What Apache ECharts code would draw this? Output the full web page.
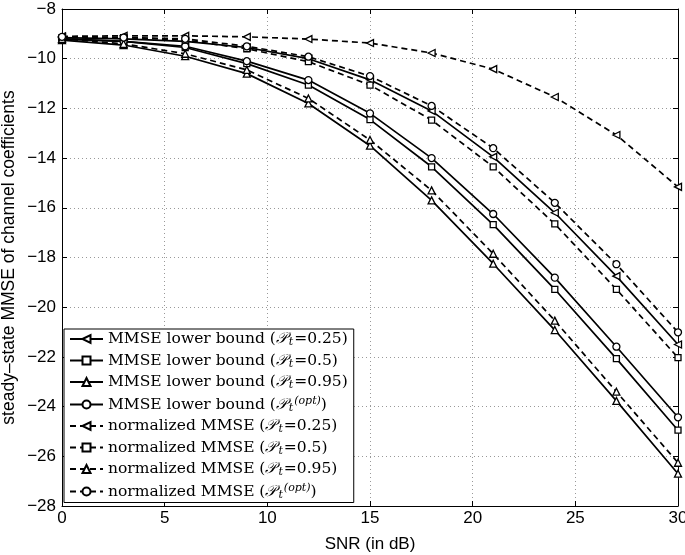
<!DOCTYPE html>
<html>
<head>
<meta charset="utf-8">
<script src="https://cdn.jsdelivr.net/npm/echarts@6/dist/echarts.min.js"></script>
<style>html,body{margin:0;padding:0;background:#fff}#c{width:685px;height:555px}</style>
</head>
<body>
<div id="c"></div>
<script>
const snr = [0, 3, 6, 9, 12, 15, 18, 21, 24, 27, 30];
const lb025 = [-9.15, -9.2, -9.3, -9.55, -10.0, -10.85, -12.1, -13.95, -16.2, -18.75, -21.5];
const lb05  = [-9.2, -9.3, -9.55, -10.2, -11.06, -12.45, -14.35, -16.68, -19.28, -22.07, -24.95];
const lb095 = [-9.25, -9.45, -9.9, -10.6, -11.8, -13.5, -15.7, -18.25, -20.92, -23.77, -26.7];
const lbopt = [-9.2, -9.3, -9.5, -10.1, -10.86, -12.2, -14.0, -16.25, -18.81, -21.59, -24.43];
const n025  = [-9.1, -9.08, -9.08, -9.12, -9.21, -9.37, -9.77, -10.42, -11.54, -13.07, -15.16];
const n05   = [-9.15, -9.15, -9.25, -9.6, -10.12, -11.06, -12.47, -14.35, -16.65, -19.28, -22.03];
const n095  = [-9.2, -9.4, -9.8, -10.45, -11.6, -13.27, -15.3, -17.85, -20.54, -23.4, -26.26];
const nopt  = [-9.12, -9.15, -9.2, -9.5, -9.92, -10.7, -11.9, -13.6, -15.8, -18.27, -21.01];

const xTicks = [0, 5, 10, 15, 20, 25, 30];
const yTicks = [-8, -10, -12, -14, -16, -18, -20, -22, -24, -26, -28];

const seriesDefs = [
  {name: 'lb025', data: lb025, sym: 'triangle', rot: 90, dash: false, txt: '{t|MMSE lower bound (}{P|𝒫}{s|t}{t|=0.25)}'},
  {name: 'lb05', data: lb05, sym: 'rect', rot: 0, dash: false, txt: '{t|MMSE lower bound (}{P|𝒫}{s|t}{t|=0.5)}'},
  {name: 'lb095', data: lb095, sym: 'triangle', rot: 0, dash: false, txt: '{t|MMSE lower bound (}{P|𝒫}{s|t}{t|=0.95)}'},
  {name: 'lbopt', data: lbopt, sym: 'circle', rot: 0, dash: false, txt: '{t|MMSE lower bound (}{P|𝒫}{s|t}{u|(opt)}{t|)}'},
  {name: 'n025', data: n025, sym: 'triangle', rot: 90, dash: true, txt: '{t|normalized MMSE (}{P|𝒫}{s|t}{t|=0.25)}'},
  {name: 'n05', data: n05, sym: 'rect', rot: 0, dash: true, txt: '{t|normalized MMSE (}{P|𝒫}{s|t}{t|=0.5)}'},
  {name: 'n095', data: n095, sym: 'triangle', rot: 0, dash: true, txt: '{t|normalized MMSE (}{P|𝒫}{s|t}{t|=0.95)}'},
  {name: 'nopt', data: nopt, sym: 'circle', rot: 0, dash: true, txt: '{t|normalized MMSE (}{P|𝒫}{s|t}{u|(opt)}{t|)}'}
];
const txtMap = {};
seriesDefs.forEach(d => txtMap[d.name] = d.txt);

const fmtNum = v => String(v).replace('-', '\u2212');
const axisFont = {color: '#000', fontSize: 17, fontFamily: 'Liberation Sans, Arial, sans-serif'};
const serif = 'DejaVu Serif, Liberation Serif, serif';

const chart = echarts.init(document.getElementById('c'), null, {renderer: 'canvas'});
chart.setOption({
  animation: false,
  backgroundColor: '#fff',
  grid: {left: 62, right: 7, top: 9, bottom: 49, containLabel: false, outerBoundsMode: 'none'},
  xAxis: [{
    type: 'value', min: 0, max: 30, interval: 5, position: 'bottom',
    name: 'SNR (in dB)', nameLocation: 'middle', nameGap: 30, nameMoveOverlap: false,
    nameTextStyle: axisFont,
    axisLine: {show: true, onZero: false, lineStyle: {color: '#000', width: 1}},
    axisTick: {show: true, inside: true, length: 5, lineStyle: {color: '#000'}},
    axisLabel: Object.assign({margin: 4, formatter: fmtNum}, axisFont),
    splitLine: {show: true, lineStyle: {color: '#999', type: [1, 3], width: 1}}
  }, {
    type: 'value', min: 0, max: 30, interval: 5, position: 'top',
    axisLine: {show: true, onZero: false, lineStyle: {color: '#000', width: 1}},
    axisTick: {show: true, inside: true, length: 5, lineStyle: {color: '#000'}},
    axisLabel: {show: false}, splitLine: {show: false}
  }],
  yAxis: [{
    type: 'value', min: -28, max: -8, interval: 2, position: 'left',
    name: 'steady\u2013state MMSE of channel coefficients', nameLocation: 'middle', nameGap: 44, nameMoveOverlap: false,
    nameTextStyle: Object.assign({}, axisFont, {fontSize: 17.5}),
    axisLine: {show: true, onZero: false, lineStyle: {color: '#000', width: 1}},
    axisTick: {show: true, inside: true, length: 5, lineStyle: {color: '#000'}},
    axisLabel: Object.assign({margin: 6, formatter: fmtNum}, axisFont),
    splitLine: {show: true, lineStyle: {color: '#999', type: [1, 3], width: 1}}
  }, {
    type: 'value', min: -28, max: -8, interval: 2, position: 'right',
    axisLine: {show: true, onZero: false, lineStyle: {color: '#000', width: 1}},
    axisTick: {show: true, inside: true, length: 5, lineStyle: {color: '#000'}},
    axisLabel: {show: false}, splitLine: {show: false}
  }],
  legend: {
    orient: 'vertical', left: 64, top: 329,
    backgroundColor: '#fff', borderColor: '#000', borderWidth: 1,
    padding: [2, 6, 2, 5], itemGap: 4.5, itemWidth: 33, itemHeight: 10,
    data: seriesDefs.map(d => d.name),
    formatter: name => txtMap[name],
    textStyle: {
      color: '#000',
      rich: {
        t: {fontFamily: serif, fontSize: 15.5, lineHeight: 18, color: '#000'},
        P: {fontFamily: serif, fontStyle: 'italic', fontSize: 15.5, lineHeight: 18, color: '#000'},
        s: {fontFamily: serif, fontStyle: 'italic', fontSize: 11, lineHeight: 11, padding: [0, 1, 0, 2], verticalAlign: 'bottom', color: '#000'},
        u: {fontFamily: serif, fontStyle: 'italic', fontSize: 11, lineHeight: 11, verticalAlign: 'top', color: '#000'}
      }
    }
  },
  series: seriesDefs.map(d => ({
    name: d.name, type: 'line',
    data: snr.map((x, i) => [x, d.data[i]]),
    symbol: d.sym, symbolRotate: d.rot,
    symbolSize: d.sym === 'rect' ? 6 : 7,
    showSymbol: true,
    lineStyle: {color: '#000', width: 1.7, type: d.dash ? [6, 4] : 'solid'},
    itemStyle: {color: '#fff', borderColor: '#000', borderWidth: 1.3},
    emphasis: {disabled: true},
    z: 3
  }))
});
</script>
</body>
</html>
